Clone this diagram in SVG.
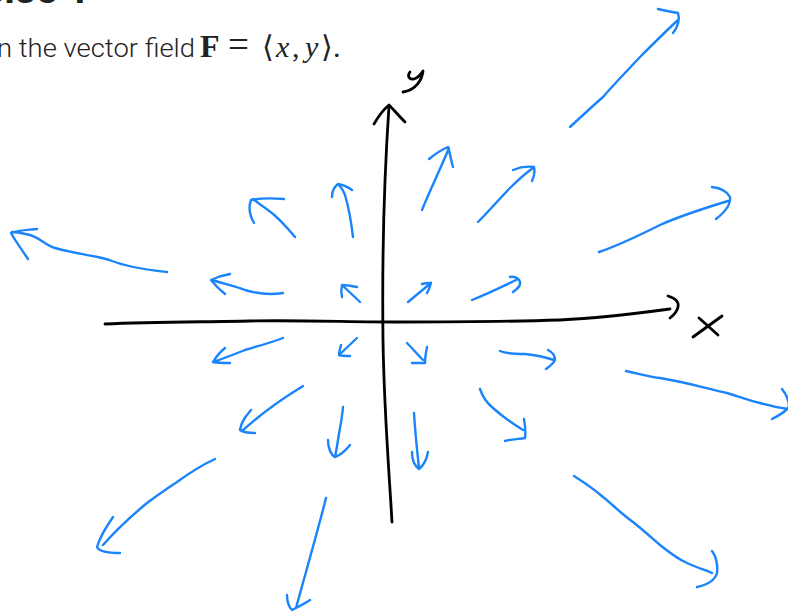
<svg xmlns="http://www.w3.org/2000/svg" width="788" height="614" viewBox="0 0 788 614">
<style>
.ax{fill:none;stroke:#000;stroke-width:2.8;stroke-linecap:round;stroke-linejoin:round}
.v{fill:none;stroke:#1a84fb;stroke-width:2.4;stroke-linecap:round;stroke-linejoin:round}
.t{font-family:Roboto,"Liberation Sans",sans-serif;font-weight:300;font-size:26px;fill:#222}
.m{font-family:"Liberation Serif","DejaVu Serif",serif;font-size:30px;fill:#222}
.h{font-family:Roboto,"Liberation Sans",sans-serif;font-weight:bold;font-size:40px;fill:#222}
</style>
<rect width="788" height="614" fill="#fff"/>
<text class="h" x="90" y="3" text-anchor="end">Exercise 1</text>
<g id="caption">
<text class="t" x="-3" y="57" textLength="198" lengthAdjust="spacingAndGlyphs">n the vector field</text>
<text class="m" y="57"><tspan x="200" font-weight="bold" font-size="32">F</tspan><tspan x="228" font-size="37">=</tspan><tspan x="262">⟨</tspan><tspan x="276" font-style="italic">x</tspan><tspan x="292">,</tspan><tspan x="305" font-style="italic">y</tspan><tspan x="321">⟩</tspan><tspan x="333">.</tspan></text>
</g>
<g id="axes">
<g id="x-axis">
<path class="ax" d="M105,324 C150,322 200,322 250,321 C300,320 350,322 400,322 C450,322 500,322 560,320 C600,318 640,313 670,309"/>
<path class="ax" d="M668,296 C675,298 679,302 678,307 C677,312 674,315 670,318"/>
<path class="ax" stroke-width="2" d="M693,337 L722,316 M699,318 L718,335"/>
</g>
<g id="y-axis">
<path class="ax" d="M392,522 C389,470 384,410 383,340 C382,260 384,180 389,106"/>
<path class="ax" d="M374,124 C378,117 383,110 389,105 C394,110 399,116 405,122"/>
<path class="ax" d="M410,72 C407,76 409,80 414,79 C418,78 421,74 423,71 C422,80 416,90 403,92"/>
</g>
</g>
<g id="field">
<path class="v" d="M167,272 C150,270 130,268 112,261 C100,256 80,255 55,248 C45,245 40,238 30,235 C22,233 16,232 12,232 M37,229 C28,230 18,230 11,233 C16,242 22,250 28,259"/>
<path class="v" d="M295,237 C285,225 278,217 268,210 C262,206 258,203 253,199 M284,199 C272,198 260,198 251,200 C248,208 250,216 254,223"/>
<path class="v" d="M353,237 C351,220 348,205 345,195 C343,190 341,187 339,185 M332,197 C332,191 334,187 338,184 C344,185 348,187 352,190"/>
<path class="v" d="M283,293 C270,295 255,293 245,290 C235,286 225,284 212,280 M230,274 C224,275 217,277 211,280 C215,285 220,290 225,294"/>
<path class="v" d="M360,302 L342,285 M357,287 C351,286 346,285 342,285 C341,289 341,293 342,297"/>
<path class="v" d="M283,338 C270,343 255,347 245,350 C235,354 225,358 213,362 M225,348 C220,352 216,357 213,362 C218,363 224,363 230,363"/>
<path class="v" d="M357,338 L339,355 M341,345 C340,349 339,352 339,355 C342,356 346,356 350,356"/>
<path class="v" d="M422,210 C430,190 440,170 449,148 M429,159 C435,154 441,150 448,147 C450,153 451,160 453,167"/>
<path class="v" d="M478,222 C490,210 500,198 510,188 C518,180 526,173 533,168 M513,170 C520,167 527,166 534,167 C535,172 534,177 532,181"/>
<path class="v" d="M599,252 C620,245 640,235 660,225 C680,216 705,208 728,201 M712,187 C720,188 727,191 730,197 C731,205 725,212 716,219"/>
<path class="v" d="M408,302 L431,283 M422,284 C425,283 429,283 431,283 C430,287 429,290 427,293"/>
<path class="v" d="M472,300 C485,295 500,288 518,279 M510,277 C514,276 519,278 520,282 C521,286 517,289 513,292"/>
<path class="v" d="M407,343 C412,348 418,355 423,360 M427,347 C426,352 425,358 425,363 C421,363 416,363 412,363"/>
<path class="v" d="M500,351 C507,354 515,354 525,354 C535,355 545,357 554,360 M548,350 C552,352 555,356 555,360 C553,364 550,366 546,369"/>
<path class="v" d="M303,386 C285,397 265,410 242,431 M251,410 C246,416 241,422 240,430 C244,433 250,433 255,433"/>
<path class="v" d="M343,407 C342,420 339,432 338,440 C337,447 336,452 335,457 M328,440 C328,448 331,455 335,457 C341,455 346,450 350,445"/>
<path class="v" d="M215,459 C200,466 188,474 177,482 C165,490 155,497 147,503 C130,517 118,528 103,545 M113,517 C106,527 100,537 97,547 C99,552 110,553 120,553"/>
<path class="v" d="M326,498 C318,530 305,575 296,608 M287,595 C287,601 289,607 292,610 C298,607 304,604 310,600"/>
<path class="v" d="M414,413 C415,430 417,450 419,468 M412,452 C412,460 415,466 419,469 C424,465 427,458 428,452"/>
<path class="v" d="M626,371 C640,374 650,377 660,378 C685,382 705,388 727,393 C740,397 752,401 760,403 C770,406 780,408 788,409 M782,389 C786,394 789,400 789,407 C785,412 778,416 772,419"/>
<path class="v" d="M480,389 C483,398 488,404 493,408 C502,416 513,424 523,430 M524,419 C525,425 526,432 525,438 C519,439 512,439 505,441"/>
<path class="v" d="M574,476 C585,483 595,490 603,497 C613,505 623,515 633,522 C643,530 652,538 660,545 C670,553 680,560 687,563 C695,567 705,570 712,573 M712,551 C716,556 718,565 717,573 C715,580 707,585 697,587"/>
<path class="v" d="M570,127 C583,115 595,104 603,97 C615,83 628,70 640,57 C652,45 665,32 678,20 M658,9 C666,11 672,12 678,13 C680,19 678,27 673,33"/>
</g>
</svg>
